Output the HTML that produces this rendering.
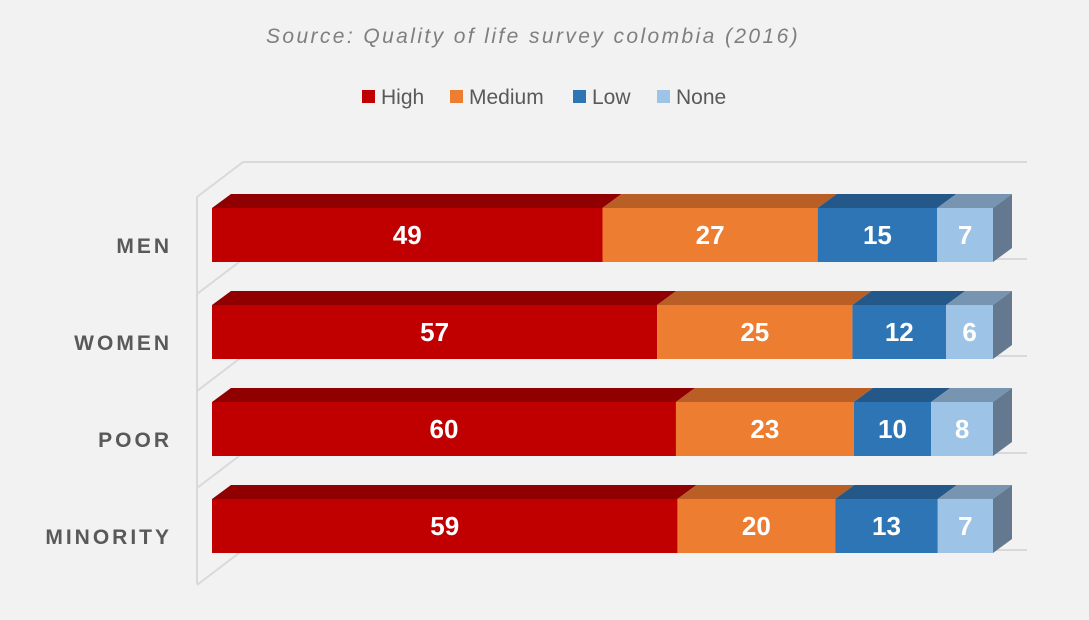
<!DOCTYPE html>
<html><head><meta charset="utf-8"><style>
body{margin:0;background:#f2f2f2;}
svg{display:block;font-family:"Liberation Sans",sans-serif;}
</style></head><body>
<svg width="1089" height="620">
<rect width="1089" height="620" fill="#f2f2f2"/>
<text x="533" y="43" text-anchor="middle" font-size="21" font-style="italic" fill="#7f7f7f" letter-spacing="2.4">Source: Quality of life survey colombia (2016)</text>
<g id="legend"></g>
<g id="grid"></g>
<g id="bars"></g>
<g id="labels"></g>
</svg>
<script>
const categories=["MEN","WOMEN","POOR","MINORITY"];
const seriesNames=["High","Medium","Low","None"];
const high=[49,57,60,59];
const medium=[27,25,23,20];
const low=[15,12,10,13];
const none=[7,6,8,7];
const series=[high,medium,low,none];
const front=["#c00000","#ed7d31","#2e75b6","#9dc3e6"];
const top_=["#900000","#b95f25","#235889","#7794b0"];
const side="#64798f";
const NS="http://www.w3.org/2000/svg";
function mk(t,a,p){const e=document.createElementNS(NS,t);for(const k in a)e.setAttribute(k,a[k]);p.appendChild(e);return e;}
const X0=212,X1=993,DX=19,DY=14,H=54;
const xs=p=>X0+(X1-X0)*p;
const rowY=i=>208+i*97;
const grid=document.getElementById('grid');
for(let i=0;i<=categories.length;i++){
  const yb=162+i*97;
  const g1=mk('line',{x1:243,y1:yb,x2:1027,y2:yb,stroke:"#d9d9d9","stroke-width":2},grid);
  
  const g2=mk('line',{x1:197,y1:yb+35,x2:243,y2:yb,stroke:"#d9d9d9","stroke-width":2},grid);
  
}
const ax=mk('line',{x1:197,y1:197,x2:197,y2:584,stroke:"#d9d9d9","stroke-width":2},grid);

const bars=document.getElementById('bars');
categories.forEach((c,i)=>{
  const tot=series.reduce((s,a)=>s+a[i],0);
  let cum=0;const y=rowY(i);
  series.forEach((a,j)=>{
    const xa=xs(cum/tot),xb=xs((cum+a[i])/tot);cum+=a[i];
    const t=mk('polygon',{points:`${xa},${y} ${xa+DX},${y-DY} ${xb+DX},${y-DY} ${xb},${y}`,fill:top_[j]},bars);
    
    const r=mk('rect',{x:xa,y:y,width:xb-xa,height:H,fill:front[j]},bars);
    
    const tx=mk('text',{x:(xa+xb)/2,y:y+H/2+9,"text-anchor":"middle","font-size":26,"font-weight":"bold",fill:"#fff"},bars);
    tx.textContent=a[i];
    
  });
  const s=mk('polygon',{points:`${X1},${y} ${X1+DX},${y-DY} ${X1+DX},${y+H-DY} ${X1},${y+H}`,fill:side},bars);
  
  const l=mk('text',{x:172,y:y+H/2+18,"text-anchor":"end","font-size":21,"font-weight":"bold",fill:"#595959","letter-spacing":3},document.getElementById('labels'));
  l.textContent=c;
  
});
const lg=document.getElementById('legend');
const lx=[362,450,573,657];
seriesNames.forEach((n,j)=>{
  const r=mk('rect',{x:lx[j],y:90,width:13,height:13,fill:front[j]},lg);
  
  const t=mk('text',{x:lx[j]+19,y:104,"font-size":21,fill:"#595959"},lg);
  t.textContent=n;
  
});
</script>
</body></html>
